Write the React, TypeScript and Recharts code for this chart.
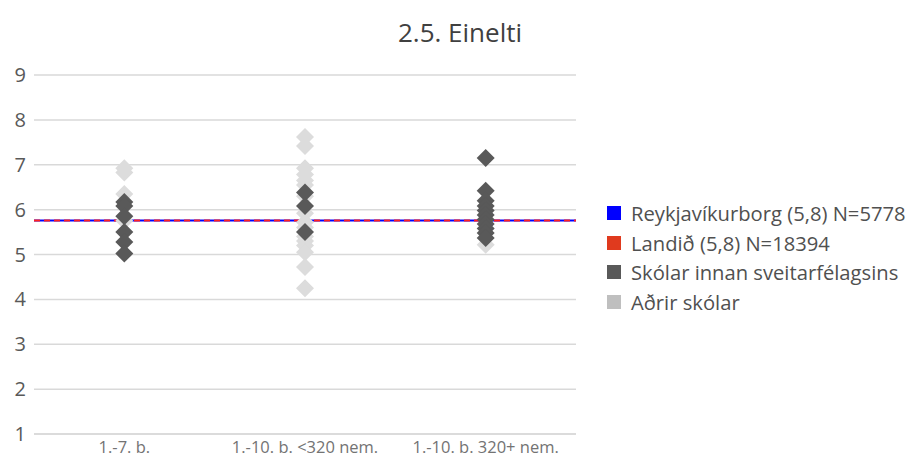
import React from 'react';
import { ComposedChart, Scatter, XAxis, YAxis, CartesianGrid, ReferenceLine } from 'recharts';

const categories = ['1.-7. b.', '1.-10. b. <320 nem.', '1.-10. b. 320+ nem.'];
const yTicks = [1, 2, 3, 4, 5, 6, 7, 8, 9];

const otherCol1 = [6.92, 6.83, 6.35, 5.75];
const otherCol2 = [7.62, 7.42, 6.92, 6.78, 6.65, 6.55, 6.3, 5.92, 5.72, 5.6, 5.4, 5.3, 5.2, 5.05, 4.72, 4.25];
const otherCol3 = [5.22];

const ownCol1 = [6.17, 6.08, 5.85, 5.5, 5.28, 5.02];
const ownCol2 = [6.38, 6.08, 5.5];
const ownCol3 = [7.15, 6.42, 6.2, 6.08, 5.98, 5.88, 5.78, 5.68, 5.58, 5.48, 5.37];

const reykjavikValue = 5.76;
const landidValue = 5.76;

const legendItems = [
  { label: 'Reykjavíkurborg (5,8) N=5778', color: '#0000ff' },
  { label: 'Landið (5,8) N=18394', color: '#e03a1e' },
  { label: 'Skólar innan sveitarfélagsins', color: '#595959' },
  { label: 'Aðrir skólar', color: '#bfbfbf' },
];

const toPoints = (cols: number[][]) =>
  cols.flatMap((vals, i) => vals.map((y) => ({ x: i + 0.5, y })));

const otherData = toPoints([otherCol1, otherCol2, otherCol3]);
const ownData = toPoints([ownCol1, ownCol2, ownCol3]);

const Diamond = (color: string) => (props: any) => {
  const { cx, cy } = props;
  const r = 9;
  return (
    <polygon
      points={`${cx},${cy - r} ${cx + r},${cy} ${cx},${cy + r} ${cx - r},${cy}`}
      fill={color}
    />
  );
};

const FONT = '"Open Sans", sans-serif';

export default function App() {
  return (
    <div style={{ position: 'absolute', left: 0, top: 0, width: 909, height: 457, background: '#fff', overflow: 'hidden' }}>
      <div
        style={{
          position: 'absolute',
          left: 260,
          width: 400,
          top: 14,
          textAlign: 'center',
          fontFamily: FONT,
          fontSize: 26,
          lineHeight: '36px',
          color: '#404040',
        }}
      >
        2.5. Einelti
      </div>
      <div style={{ position: 'absolute', left: 607, top: 198, fontFamily: FONT }}>
        {legendItems.map((it) => (
          <div key={it.label} style={{ display: 'flex', alignItems: 'center', height: 29.7 }}>
            <span style={{ display: 'inline-block', width: 14, height: 14, background: it.color, marginRight: 10 }} />
            <span style={{ fontSize: 20.2, color: '#505050', whiteSpace: 'nowrap' }}>{it.label}</span>
          </div>
        ))}
      </div>
      <ComposedChart width={909} height={457} margin={{ top: 75, right: 333, bottom: 3, left: 0 }}>
        <CartesianGrid horizontal vertical={false} stroke="#d9d9d9" strokeWidth={1.5} />
        <XAxis
          type="number"
          dataKey="x"
          domain={[0, 3]}
          ticks={[0.5, 1.5, 2.5]}
          tickFormatter={(v: number) => categories[Math.floor(v)]}
          axisLine={{ stroke: '#d9d9d9', strokeWidth: 1.5 }}
          tickLine={false}
          height={20}
          tickSize={5}
          tick={{ fontSize: 16.5, fill: '#737373', fontFamily: FONT }}
          interval={0}
        />
        <YAxis
          type="number"
          dataKey="y"
          domain={[1, 9]}
          ticks={yTicks}
          axisLine={false}
          tickLine={false}
          tickSize={6}
          width={34}
          tick={{ fontSize: 20, fill: '#595959', fontFamily: FONT }}
        />
        <Scatter data={otherData} fill="#dcdcdc" shape={Diamond('#dcdcdc')} isAnimationActive={false} />
        <Scatter data={ownData} fill="#595959" shape={Diamond('#595959')} isAnimationActive={false} />
        <ReferenceLine y={reykjavikValue} stroke="#0000ff" strokeWidth={2} />
        <ReferenceLine y={landidValue} stroke="#ff2020" strokeWidth={2} strokeDasharray="6 4" />
      </ComposedChart>
    </div>
  );
}
